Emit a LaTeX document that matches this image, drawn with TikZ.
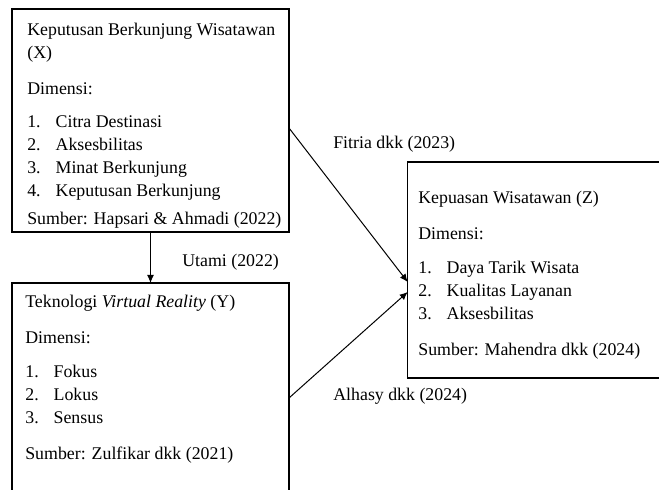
\documentclass[tikz,border=0pt]{standalone}
\usepackage{fontspec}
\setmainfont{Liberation Serif}
\usepackage{tikz}
\usetikzlibrary{arrows.meta}
\newcommand{\butir}[2]{\makebox[17pt][l]{#1.}#2}

\begin{document}
\begin{tikzpicture}[x=0.6pt,y=-0.6pt,
font=\fontsize{10.7}{13.8}\selectfont]
\tikzstyle{kotak}=[draw,line width=0.9pt,inner sep=0pt,outer sep=0pt,anchor=north west]
\tikzstyle{isi}=[align=left,inner sep=0pt,anchor=north west]
\tikzstyle{ket}=[inner sep=0pt,anchor=base west]
\tikzstyle{panah}=[-{Latex[length=4.8pt,width=4.2pt]},line width=0.6pt]

\useasboundingbox (0,0) rectangle (659,490);
\clip (0,0) rectangle (659,490);

\node[kotak,minimum width=166.2pt,minimum height=133.8pt] (X) at (12,9) {};
\node[kotak,minimum width=166.2pt,minimum height=138pt] (Y) at (12,283) {};
\node[kotak,minimum width=168pt,minimum height=129.6pt] (Z) at (407.7,162) {};

\node[isi] (tX) at (27,22.8) {Keputusan Berkunjung Wisatawan\\ (X)\\[8pt]
	Dimensi:\\[6pt]
	\butir{1}{Citra Destinasi}\\
	\butir{2}{Aksesbilitas}\\
	\butir{3}{Minat Berkunjung}\\
	\butir{4}{Keputusan Berkunjung}\\[3pt]
	Sumber: Hapsari \& Ahmadi (2022)};
\node[isi] (tY) at (25,294.8) {Teknologi \textit{Virtual Reality} (Y)\\[8pt]
	Dimensi:\\[6.5pt]
	\butir{1}{Fokus}\\
	\butir{2}{Lokus}\\
	\butir{3}{Sensus}\\[8pt]
	Sumber: Zulfikar dkk (2021)};
\node[isi] (tZ) at (418,190.8) {Kepuasan Wisatawan (Z)\\[8pt]
	Dimensi:\\[6.5pt]
	\butir{1}{Daya Tarik Wisata}\\
	\butir{2}{Kualitas Layanan}\\
	\butir{3}{Aksesbilitas}\\[8pt]
	Sumber: Mahendra dkk (2024)};

\node[ket] (lXY) at (182,266.7) {Utami (2022)};
\node[ket] (lXZ) at (333,149) {Fitria dkk (2023)};
\node[ket] (lYZ) at (333,401) {Alhasy dkk (2024)};

\draw[panah] (X.south) -- (Y.north);
\draw[panah] ([yshift=-4.5pt]X.east) -- ([yshift=-7.2pt]Z.west);
\draw[panah] (Y.east) -- ([yshift=-13.2pt]Z.west);
\end{tikzpicture}
\end{document}
